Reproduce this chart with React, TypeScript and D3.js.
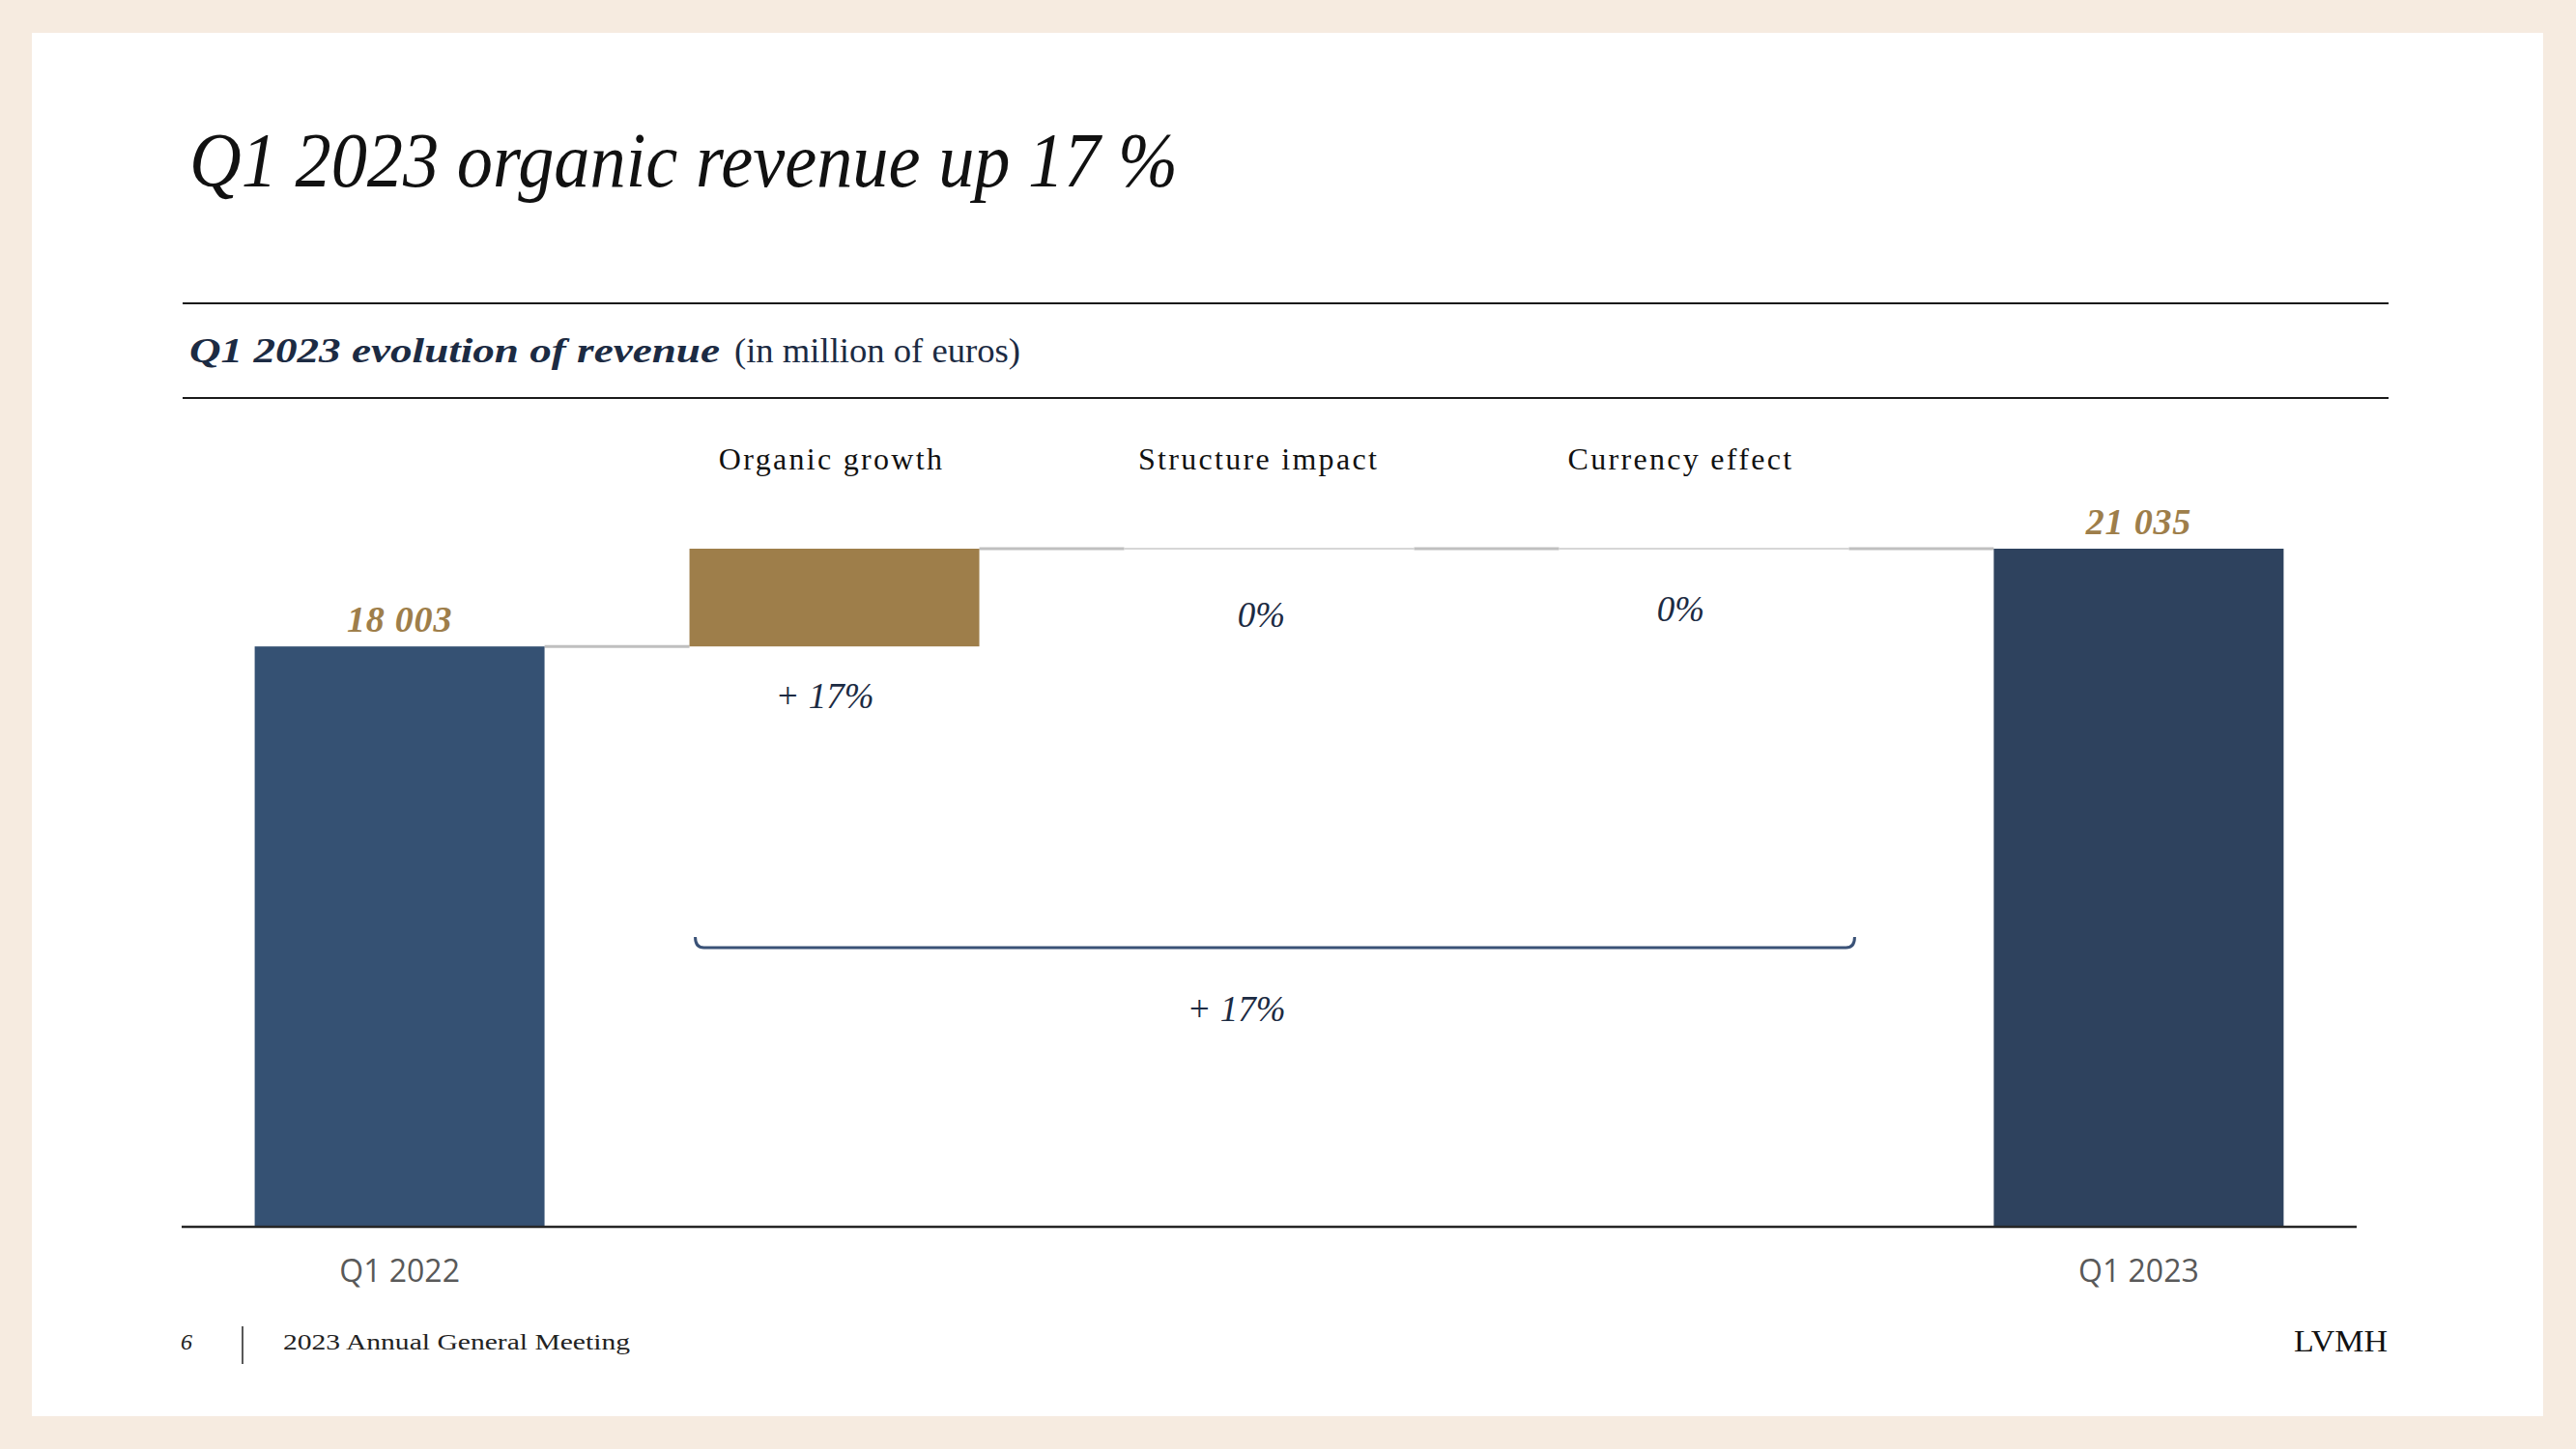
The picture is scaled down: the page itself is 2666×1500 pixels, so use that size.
import React from "react";
import * as d3 from "d3";

const categories = ["Q1 2022", "Organic growth", "Structure impact", "Currency effect", "Q1 2023"];
const values = [18003, 3032, 0, 0, 21035];
const kinds = ["total", "delta", "delta", "delta", "total"];
const valueLabels = ["18 003", "+ 17%", "0%", "0%", "21 035"];
const totalGrowthLabel = "+ 17%";

const W = 2666;
const H = 1500;
const AXIS_X0 = 188;
const AXIS_X1 = 2439;
const BASE_Y = 1270;
const TOP_Y = 568;

const C = {
  bg: "#F6EBE0",
  title: "#111111",
  navyText: "#1C2B43",
  bar2022: "#355173",
  bar2023: "#2E425E",
  gold: "#9E7E4A",
  connector: "#BFBFBF",
  axisText: "#595959",
  bracket: "#3A5277",
};

export default function App() {
  const x = d3
    .scaleBand<string>()
    .domain(categories)
    .range([AXIS_X0, AXIS_X1])
    .paddingInner(1 / 3)
    .paddingOuter(0.168);
  const bw = x.bandwidth();
  const y = d3.scaleLinear().domain([0, d3.max(values) as number]).range([BASE_Y, TOP_Y]);

  let cum = 0;
  const segs = categories.map((c, i) => {
    let lo: number, hi: number;
    if (kinds[i] === "total") {
      lo = 0;
      hi = values[i];
      cum = values[i];
    } else {
      lo = cum;
      hi = cum + values[i];
      cum = hi;
    }
    return { c, i, lo, hi, x0: x(c) as number, kind: kinds[i] };
  });

  const serif = "'Liberation Serif', 'Times New Roman', serif";
  const sans = "'Open Sans', 'Noto Sans', sans-serif";

  const bx0 = (x(categories[1]) as number) + 6;
  const bx1 = (x(categories[3]) as number) + bw + 6;
  const by = 981;
  const bracketPath = `M${bx0},${by - 11} Q${bx0},${by} ${bx0 + 9},${by} L${bx1 - 9},${by} Q${bx1},${by} ${bx1},${by - 11}`;

  return (
    <svg width={W} height={H} style={{ position: "absolute", left: 0, top: 0, display: "block" }}>
      <rect x={0} y={0} width={W} height={H} fill={C.bg} />
      <rect x={33} y={34} width={2599} height={1432} fill="#FFFFFF" />

      <text x={196} y={193} fontFamily={serif} fontStyle="italic" fontSize={80} fill={C.title}
        textLength={1023} lengthAdjust="spacingAndGlyphs">
        Q1 2023 organic revenue up 17 %
      </text>

      <line x1={189} x2={2472} y1={314} y2={314} stroke="#1A1A1A" strokeWidth={2} />
      <line x1={189} x2={2472} y1={412} y2={412} stroke="#1A1A1A" strokeWidth={2} />

      <text x={196} y={375} fontFamily={serif} fontStyle="italic" fontWeight="bold" fontSize={36} fill={C.navyText}
        textLength={549} lengthAdjust="spacingAndGlyphs">
        Q1 2023 evolution of revenue
      </text>
      <text x={760} y={375} fontFamily={serif} fontSize={35} fill={C.navyText}
        textLength={296} lengthAdjust="spacingAndGlyphs">
        (in million of euros)
      </text>

      {segs.slice(0, -1).map((s, i) => {
        const next = segs[i + 1];
        return (
          <line key={"con" + i} x1={s.x0 + bw} x2={next.x0} y1={y(s.hi)} y2={y(s.hi)}
            stroke={C.connector} strokeWidth={3} />
        );
      })}

      {segs.map((s) => {
        const top = y(Math.max(s.lo, s.hi));
        const bot = y(Math.min(s.lo, s.hi));
        const h = bot - top;
        let fill = C.gold;
        if (s.kind === "total") fill = s.i === 0 ? C.bar2022 : C.bar2023;
        if (h < 1) {
          return (
            <line key={"bar" + s.i} x1={s.x0} x2={s.x0 + bw} y1={top} y2={top} stroke="#C9C9C9" strokeWidth={1.5} />
          );
        }
        return <rect key={"bar" + s.i} x={s.x0} y={top} width={bw} height={h} fill={fill} />;
      })}

      <line x1={AXIS_X0} x2={AXIS_X1} y1={BASE_Y} y2={BASE_Y} stroke="#262626" strokeWidth={2.5} />

      {segs.map((s) =>
        s.kind === "total" ? (
          <text key={"ax" + s.i} x={s.x0 + bw / 2} y={1327} textAnchor="middle" fontFamily={sans}
            fontSize={32} fill={C.axisText}>
            {s.c}
          </text>
        ) : (
          <text key={"hd" + s.i} x={s.x0 + bw / 2 - (s.i === 3 ? 24 : s.i === 2 ? 11 : 3)} y={486}
            textAnchor="middle" fontFamily={serif} fontSize={32} letterSpacing={2.3} fill="#111111">
            {s.c}
          </text>
        )
      )}

      {segs.map((s) => {
        const cx = s.x0 + bw / 2;
        if (s.kind === "total") {
          return (
            <text key={"vl" + s.i} x={cx} y={y(s.hi) - 15} textAnchor="middle" fontFamily={serif}
              fontStyle="italic" fontWeight="bold" fontSize={38} fill={C.gold} letterSpacing={0.8}>
              {valueLabels[s.i]}
            </text>
          );
        }
        if (s.hi !== s.lo) {
          return (
            <text key={"vl" + s.i} x={cx - 10} y={y(s.lo) + 64} textAnchor="middle" fontFamily={serif}
              fontStyle="italic" fontSize={37} fill={C.navyText}>
              {valueLabels[s.i]}
            </text>
          );
        }
        return (
          <text key={"vl" + s.i} x={cx - (s.i === 3 ? 24 : 8)} y={y(s.hi) + (s.i === 3 ? 75 : 81)}
            textAnchor="middle" fontFamily={serif} fontStyle="italic" fontSize={37} fill={C.navyText}>
            {valueLabels[s.i]}
          </text>
        );
      })}

      <path d={bracketPath} fill="none" stroke={C.bracket} strokeWidth={3} />
      <text x={(bx0 + bx1) / 2 - 40} y={1057} textAnchor="middle" fontFamily={serif} fontStyle="italic"
        fontSize={37} fill={C.navyText}>
        {totalGrowthLabel}
      </text>

      <text x={187} y={1397} fontFamily={serif} fontStyle="italic" fontSize={24} fill="#222">6</text>
      <line x1={251} x2={251} y1={1373} y2={1412} stroke="#222" strokeWidth={1.5} />
      <text x={293} y={1397} fontFamily={serif} fontSize={24} fill="#222" textLength={359}
        lengthAdjust="spacingAndGlyphs">
        2023 Annual General Meeting
      </text>
      <text x={2374} y={1399} fontFamily={serif} fontSize={32} fill="#111" textLength={97}
        lengthAdjust="spacingAndGlyphs">
        LVMH
      </text>
    </svg>
  );
}
